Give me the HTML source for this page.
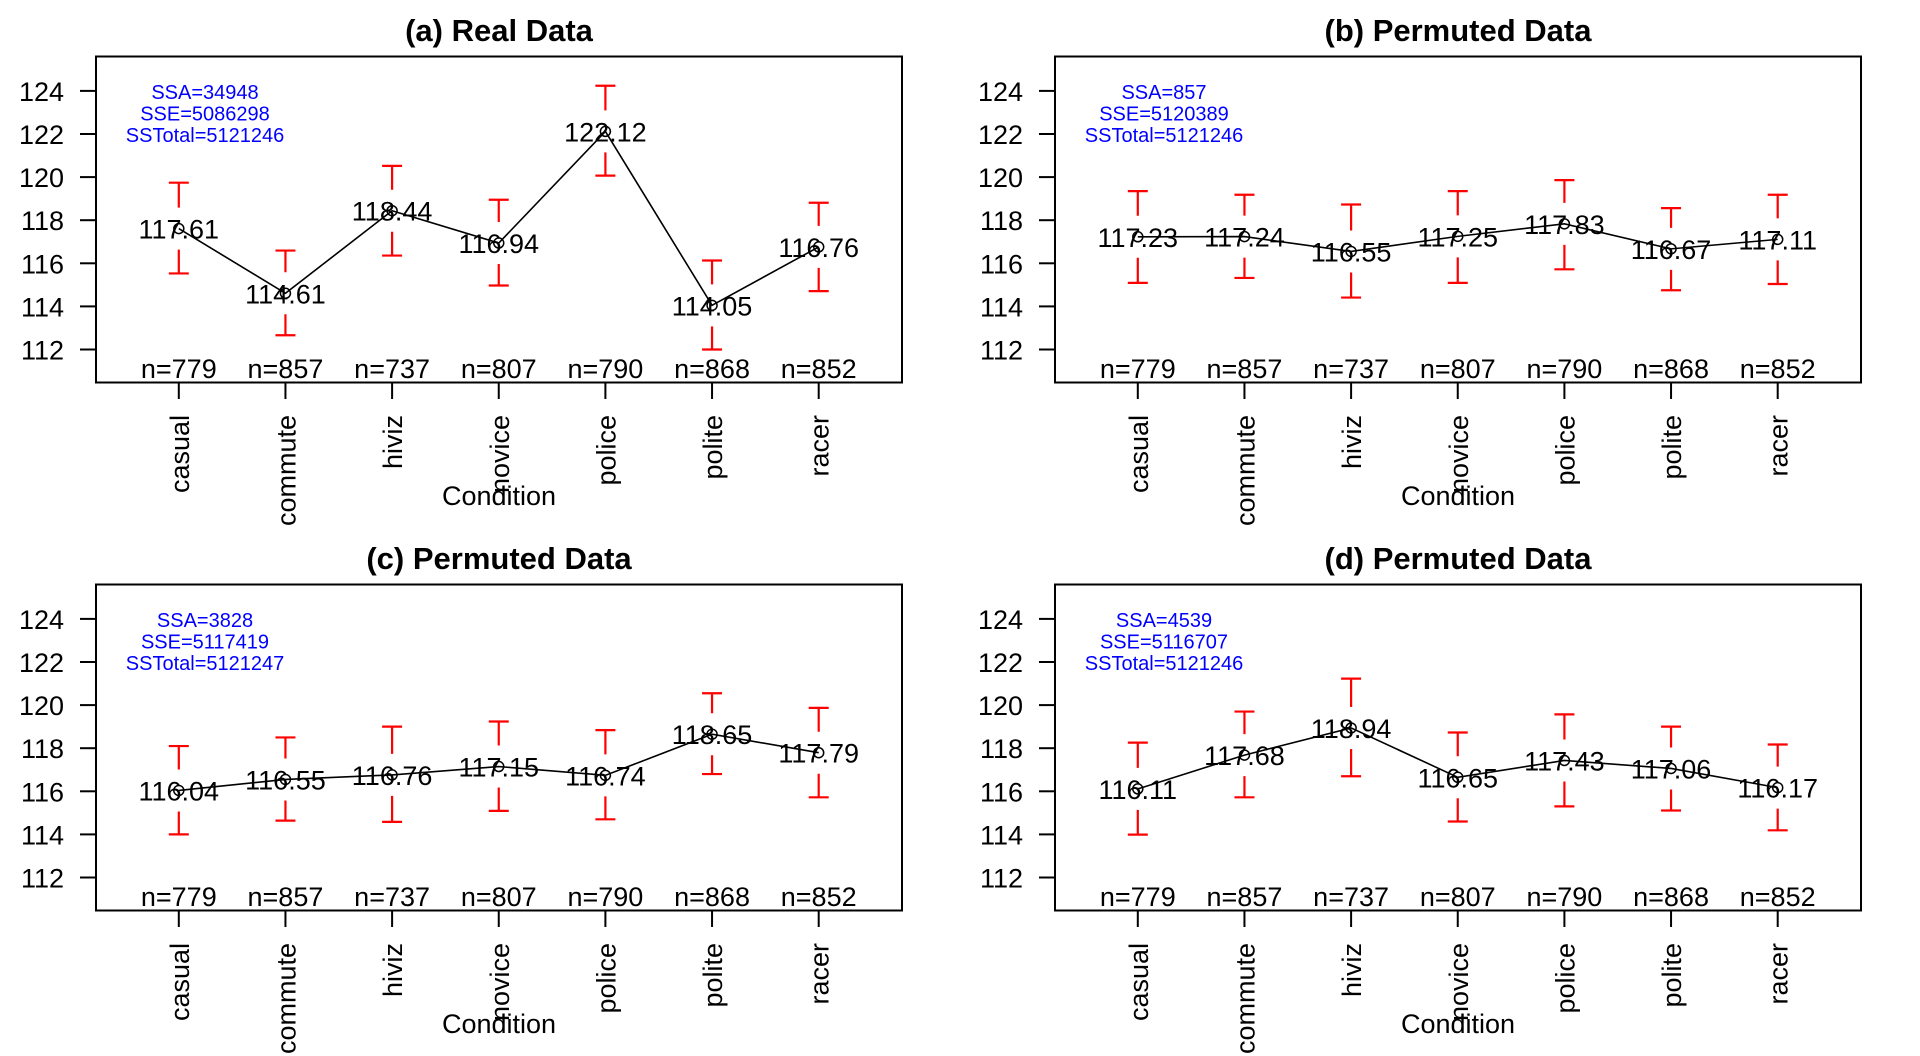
<!DOCTYPE html>
<html><head><meta charset="utf-8"><style>
html,body{margin:0;padding:0;background:#fff;}
svg{display:block;font-family:"Liberation Sans",Arial,sans-serif;}
</style></head><body>
<svg id="chart" width="1920" height="1056" viewBox="0 0 1920 1056"></svg>
<script>
const categories = ["casual","commute","hiviz","novice","police","polite","racer"];
const counts = ["n=779","n=857","n=737","n=807","n=790","n=868","n=852"];
const yTicks = [112,114,116,118,120,122,124];
const titles = ["(a) Real Data","(b) Permuted Data","(c) Permuted Data","(d) Permuted Data"];
const statsA = ["SSA=34948","SSE=5086298","SSTotal=5121246"];
const statsB = ["SSA=857","SSE=5120389","SSTotal=5121246"];
const statsC = ["SSA=3828","SSE=5117419","SSTotal=5121247"];
const statsD = ["SSA=4539","SSE=5116707","SSTotal=5121246"];
const meansA = [117.61,114.61,118.44,116.94,122.12,114.05,116.76];
const upperA = [119.74,116.59,120.52,118.95,124.24,116.13,118.81];
const lowerA = [115.53,112.66,116.36,114.97,120.07,112.0,114.71];
const meansB = [117.23,117.24,116.55,117.25,117.83,116.67,117.11];
const upperB = [119.35,119.18,118.73,119.35,119.86,118.56,119.18];
const lowerB = [115.09,115.32,114.41,115.09,115.72,114.75,115.04];
const meansC = [116.04,116.55,116.76,117.15,116.74,118.65,117.79];
const upperC = [118.1,118.5,119.0,119.24,118.84,120.55,119.87];
const lowerC = [114.0,114.64,114.58,115.09,114.7,116.8,115.72];
const meansD = [116.11,117.68,118.94,116.65,117.43,117.06,116.17];
const upperD = [118.26,119.70,121.23,118.73,119.57,119.0,118.17];
const lowerD = [113.99,115.72,116.70,114.60,115.30,115.11,114.19];

const panels = [
 {ox:0, oy:0, stats:statsA, m:meansA, u:upperA, l:lowerA, name:'panel-a'},
 {ox:959, oy:0, stats:statsB, m:meansB, u:upperB, l:lowerB, name:'panel-b'},
 {ox:0, oy:528, stats:statsC, m:meansC, u:upperC, l:lowerC, name:'panel-c'},
 {ox:959, oy:528, stats:statsD, m:meansD, u:upperD, l:lowerD, name:'panel-d'}
];
const NS="http://www.w3.org/2000/svg";
const svg=document.getElementById('chart');
function mk(tag,attrs,parent,text){const e=document.createElementNS(NS,tag);for(const k in attrs)e.setAttribute(k,attrs[k]);if(text!==undefined)e.textContent=text;parent.appendChild(e);return e;}

panels.forEach((p,pi)=>{
  const g=mk('g',{},svg);
  
  
  const xs=i=>p.ox+178.8+i*106.65;
  const ys=v=>p.oy+349.5-(v-112)*21.55;
  const L=p.ox+96, R=p.ox+902, T=p.oy+56.5, B=p.oy+382.5;
  const t=mk('text',{x:(L+R)/2,y:p.oy+41,'text-anchor':'middle','font-size':31,'font-weight':'bold'},g,titles[pi]);
  
  
  const box=mk('rect',{x:L,y:T,width:R-L,height:B-T,fill:'none',stroke:'#000','stroke-width':2},g);
  
  
  yTicks.forEach(v=>{
    mk('line',{x1:L-16,x2:L,y1:ys(v),y2:ys(v),stroke:'#000','stroke-width':2},g);
    const tl=mk('text',{x:L-32,y:ys(v)+10,'text-anchor':'end','font-size':27},g,String(v));
    
    
  });
  categories.forEach((c,i)=>{
    mk('line',{x1:xs(i),x2:xs(i),y1:B,y2:p.oy+399,stroke:'#000','stroke-width':2},g);
    const cl=mk('text',{transform:`translate(${xs(i)+10},${p.oy+415}) rotate(-90)`,'text-anchor':'end','font-size':27},g,c);
    
    
    const nl=mk('text',{x:xs(i),y:p.oy+378,'text-anchor':'middle','font-size':27},g,counts[i]);
    
    
  });
  const xt=mk('text',{x:(L+R)/2,y:p.oy+505,'text-anchor':'middle','font-size':27},g,'Condition');
  
  
  p.stats.forEach((s,k)=>{
    const st=mk('text',{x:p.ox+205,y:p.oy+99+k*21.5,'text-anchor':'middle','font-size':20,fill:'#0000ff'},g,s);
    
    
  });
  p.m.forEach((v,i)=>{
    const x=xs(i), ym=ys(v), yu=ys(p.u[i]), yl=ys(p.l[i]);
    const eb=mk('path',{d:`M${x},${ym-21}V${yu}M${x-10},${yu}H${x+10}M${x},${ym+21}V${yl}M${x-10},${yl}H${x+10}`,stroke:'#ff0000','stroke-width':2.2,fill:'none'},g);
    
    
  });
  const line=mk('polyline',{points:p.m.map((v,i)=>xs(i)+','+ys(v)).join(' '),fill:'none',stroke:'#000','stroke-width':1.6},g);
  
  
  p.m.forEach((v,i)=>{
    const pt=mk('circle',{cx:xs(i),cy:ys(v),r:5,fill:'none',stroke:'#000','stroke-width':1.5},g);
    
    
    const vl=mk('text',{x:xs(i),y:ys(v)+10,'text-anchor':'middle','font-size':27},g,v.toFixed(2));
    
    
  });
});
</script>
</body></html>
